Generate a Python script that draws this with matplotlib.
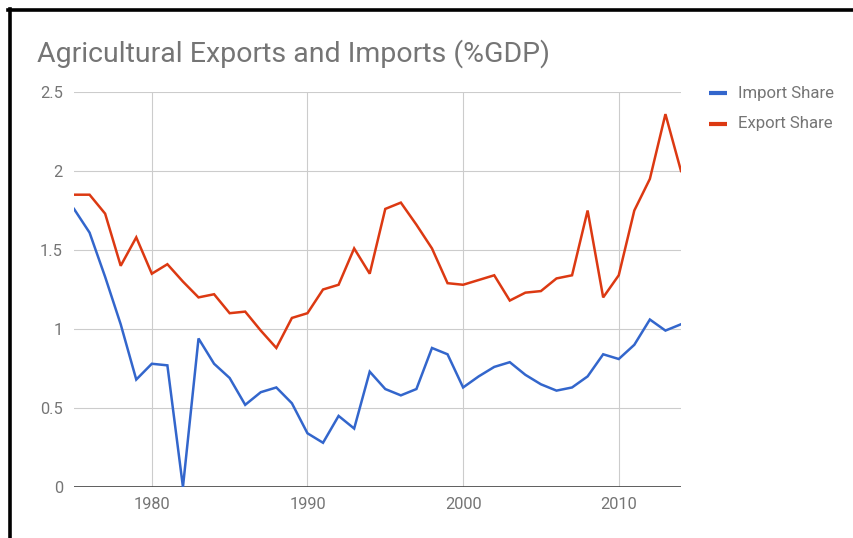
import matplotlib
matplotlib.use("Agg")
import matplotlib.pyplot as plt
from matplotlib.lines import Line2D

plt.rcParams["font.family"] = ["Roboto", "DejaVu Sans"]

years = list(range(1975, 2015))

import_share = [1.76, 1.61, 1.33, 1.03, 0.68, 0.78, 0.77, 0.00, 0.94, 0.78,
                0.69, 0.52, 0.60, 0.63, 0.53, 0.34, 0.28, 0.45, 0.37, 0.73,
                0.62, 0.58, 0.62, 0.88, 0.84, 0.63, 0.70, 0.76, 0.79, 0.71,
                0.65, 0.61, 0.63, 0.70, 0.84, 0.81, 0.90, 1.06, 0.99, 1.03]

export_share = [1.85, 1.85, 1.73, 1.40, 1.58, 1.35, 1.41, 1.30, 1.20, 1.22,
                1.10, 1.11, 0.99, 0.88, 1.07, 1.10, 1.25, 1.28, 1.51, 1.35,
                1.76, 1.80, 1.66, 1.51, 1.29, 1.28, 1.31, 1.34, 1.18, 1.23,
                1.24, 1.32, 1.34, 1.75, 1.20, 1.34, 1.75, 1.95, 2.36, 2.00]

series_names = ["Import Share", "Export Share"]
x_ticks = [1980, 1990, 2000, 2010]
y_ticks = [0, 0.5, 1, 1.5, 2, 2.5]
y_tick_labels = ["0", "0.5", "1", "1.5", "2", "2.5"]

BLUE = "#3366cc"
RED = "#dc3912"
GREY = "#757575"
GRID = "#cccccc"

W, H = 854, 538
fig = plt.figure(figsize=(W / 100, H / 100), dpi=100)
fig.patch.set_facecolor("white")

# plot area in pixel terms
left, right, top, bottom = 74, 681, 92, 487
ax = fig.add_axes([left / W, 1 - bottom / H, (right - left) / W, (bottom - top) / H])

ax.plot(years, import_share, color=BLUE, lw=1.8, solid_joinstyle="miter", zorder=3)
ax.plot(years, export_share, color=RED, lw=1.8, solid_joinstyle="miter", zorder=3)

ax.set_xlim(1975, 2014)
ax.set_ylim(0, 2.5)
ax.set_xticks(x_ticks)
ax.set_xticklabels([str(t) for t in x_ticks])
ax.set_yticks(y_ticks)
ax.set_yticklabels(y_tick_labels)
ax.tick_params(length=0, colors=GREY, labelsize=11.8)
ax.tick_params(axis="x", pad=7)
ax.tick_params(axis="y", pad=8)
ax.grid(True, color=GRID, lw=0.8, zorder=0)
ax.axhline(0, color="#444444", lw=1.2, zorder=2)
for s in ax.spines.values():
    s.set_visible(False)

fig.text(37 / W, 1 - 54 / H, "Agricultural Exports and Imports (%GDP)",
         fontsize=20.5, color=GREY, va="center", ha="left")

# legend
for i, (name, col) in enumerate(zip(series_names, [BLUE, RED])):
    yy = 1 - (93 + 30.5 * i) / H
    fig.add_artist(Line2D([709 / W, 727 / W], [yy, yy], color=col, lw=3.0,
                          solid_capstyle="butt"))
    fig.text(738 / W, yy, name, fontsize=12.1, color=GREY, va="center", ha="left")

# black frame on top and left edges
fig.add_artist(Line2D([8 / W, 1], [1 - 10 / H, 1 - 10 / H], color="black", lw=2.6))
fig.add_artist(Line2D([10 / W, 10 / W], [0, 1 - 9 / H], color="black", lw=2.6))

fig.savefig("out.png", dpi=100, facecolor="white")
